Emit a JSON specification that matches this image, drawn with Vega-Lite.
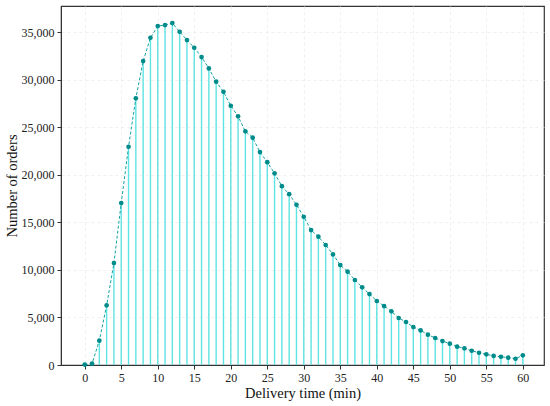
{
  "$schema": "https://vega.github.io/schema/vega-lite/v6.json",
  "width": 483,
  "height": 359,
  "autosize": {"type": "none"},
  "padding": {"left": 61, "top": 6, "right": 6, "bottom": 41},
  "background": "white",
  "data": {
    "values": [
      {"t": 0, "orders": 40}, {"t": 1, "orders": 150}, {"t": 2, "orders": 2560},
      {"t": 3, "orders": 6270}, {"t": 4, "orders": 10720}, {"t": 5, "orders": 17030},
      {"t": 6, "orders": 22950}, {"t": 7, "orders": 28040}, {"t": 8, "orders": 31960},
      {"t": 9, "orders": 34410}, {"t": 10, "orders": 35640}, {"t": 11, "orders": 35740},
      {"t": 12, "orders": 35950}, {"t": 13, "orders": 35040}, {"t": 14, "orders": 34170},
      {"t": 15, "orders": 33360}, {"t": 16, "orders": 32380}, {"t": 17, "orders": 31190},
      {"t": 18, "orders": 29790}, {"t": 19, "orders": 28730}, {"t": 20, "orders": 27260},
      {"t": 21, "orders": 26150}, {"t": 22, "orders": 24570}, {"t": 23, "orders": 23900},
      {"t": 24, "orders": 22390}, {"t": 25, "orders": 21330}, {"t": 26, "orders": 20150},
      {"t": 27, "orders": 18800}, {"t": 28, "orders": 17960}, {"t": 29, "orders": 16850},
      {"t": 30, "orders": 15590}, {"t": 31, "orders": 14190}, {"t": 32, "orders": 13490},
      {"t": 33, "orders": 12620}, {"t": 34, "orders": 11630}, {"t": 35, "orders": 10510},
      {"t": 36, "orders": 9810}, {"t": 37, "orders": 8940}, {"t": 38, "orders": 8170},
      {"t": 39, "orders": 7460}, {"t": 40, "orders": 6730}, {"t": 41, "orders": 6200},
      {"t": 42, "orders": 5640}, {"t": 43, "orders": 4940}, {"t": 44, "orders": 4520},
      {"t": 45, "orders": 3990}, {"t": 46, "orders": 3640}, {"t": 47, "orders": 3190},
      {"t": 48, "orders": 2840}, {"t": 49, "orders": 2520}, {"t": 50, "orders": 2240},
      {"t": 51, "orders": 1930}, {"t": 52, "orders": 1750}, {"t": 53, "orders": 1500},
      {"t": 54, "orders": 1290}, {"t": 55, "orders": 1120}, {"t": 56, "orders": 950},
      {"t": 57, "orders": 870}, {"t": 58, "orders": 770}, {"t": 59, "orders": 660},
      {"t": 60, "orders": 1020}
    ]
  },
  "encoding": {
    "x": {
      "field": "t",
      "type": "quantitative",
      "title": "Delivery time (min)",
      "scale": {"domain": [-3.25, 62.9], "nice": false, "zero": false},
      "axis": {"values": [0, 5, 10, 15, 20, 25, 30, 35, 40, 45, 50, 55, 60]}
    },
    "y": {
      "field": "orders",
      "type": "quantitative",
      "title": "Number of orders",
      "scale": {"domain": [0, 37750], "nice": false},
      "axis": {
        "values": [0, 5000, 10000, 15000, 20000, 25000, 30000, 35000],
        "format": ",d"
      }
    }
  },
  "layer": [
    {
      "mark": {"type": "rule", "color": "#5fe3e3", "strokeWidth": 1.4},
      "encoding": {"y2": {"datum": 0}}
    },
    {
      "mark": {"type": "line", "color": "#14a3a3", "strokeWidth": 1, "strokeDash": [3, 2]}
    },
    {
      "mark": {"type": "circle", "color": "#008b8b", "size": 22, "opacity": 1}
    }
  ],
  "config": {
    "font": "Liberation Serif",
    "view": {"stroke": "#333333", "strokeWidth": 1.2},
    "axis": {
      "labelFont": "Liberation Serif",
      "labelFontSize": 12,
      "titleFont": "Liberation Serif",
      "titleFontSize": 14.5,
      "titleFontWeight": "normal",
      "labelColor": "#222222",
      "titleColor": "#111111",
      "domainColor": "#333333",
      "tickColor": "#333333",
      "tickSize": 4,
      "grid": true,
      "gridColor": "#ececec",
      "gridDash": [3, 3],
      "gridWidth": 0.8,
      "labelPadding": 3
    },
    "axisX": {"titlePadding": 3},
    "axisY": {"titlePadding": 2}
  }
}
